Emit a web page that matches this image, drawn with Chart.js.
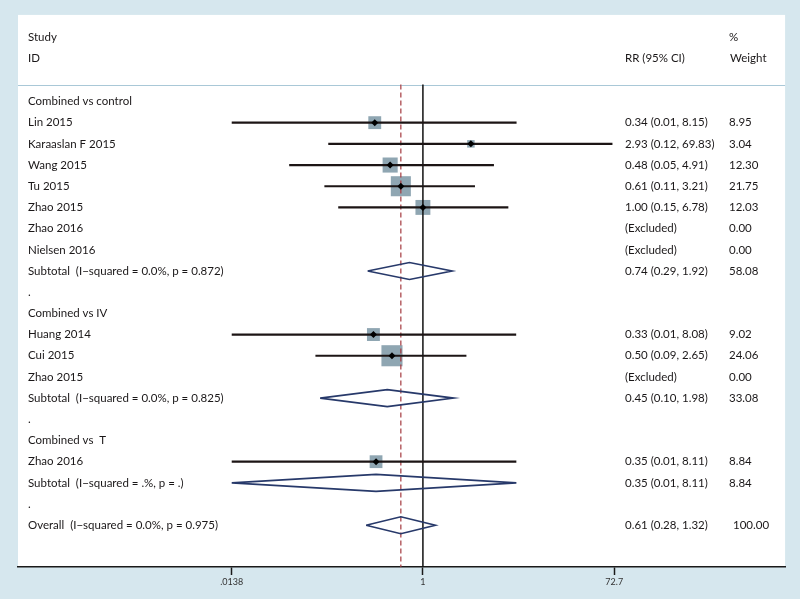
<!DOCTYPE html>
<html>
<head>
<meta charset="utf-8">
<script src="https://cdn.jsdelivr.net/npm/chart.js@4/dist/chart.umd.min.js"></script>
<style>
  html, body { margin: 0; padding: 0; background: #d6e7ee; }
  #wrap { width: 800px; height: 599px; }
</style>
</head>
<body>
<div id="wrap"><canvas id="forest"></canvas></div>
<script>
'use strict';

// rows of the forest plot, top to bottom
var rowLabels = [
    'Combined vs control', 'Lin 2015', 'Karaaslan F 2015', 'Wang 2015', 'Tu 2015', 'Zhao 2015',
    'Zhao 2016', 'Nielsen 2016', 'Subtotal  (I\u2212squared = 0.0%, p = 0.872)', '.',
    'Combined vs IV', 'Huang 2014', 'Cui 2015', 'Zhao 2015', 'Subtotal  (I\u2212squared = 0.0%, p = 0.825)', '.',
    'Combined vs  T', 'Zhao 2016', 'Subtotal  (I\u2212squared = .%, p = .)', '.',
    'Overall  (I\u2212squared = 0.0%, p = 0.975)'
];
// study | excl | sub | head | dot | all
var rowKind = ['head', 'study', 'study', 'study', 'study', 'study', 'excl', 'excl', 'sub', 'dot',
    'head', 'study', 'study', 'excl', 'sub', 'dot',
    'head', 'study', 'sub', 'dot', 'all'];
var rr     = [null, 0.34, 2.93, 0.48, 0.61, 1.00, null, null, 0.74, null, null, 0.33, 0.50, null, 0.45, null, null, 0.35, 0.35, null, 0.61];
var ciLow  = [null, 0.01, 0.12, 0.05, 0.11, 0.15, null, null, 0.29, null, null, 0.01, 0.09, null, 0.10, null, null, 0.01, 0.01, null, 0.28];
var ciHigh = [null, 8.15, 69.83, 4.91, 3.21, 6.78, null, null, 1.92, null, null, 8.08, 2.65, null, 1.98, null, null, 8.11, 8.11, null, 1.32];
var weights = [null, 8.95, 3.04, 12.30, 21.75, 12.03, 0.00, 0.00, 58.08, null, null, 9.02, 24.06, 0.00, 33.08, null, null, 8.84, 8.84, null, 100.00];

var tickValues = [0.0138, 1, 72.7];
var tickLabels = ['.0138', '1', '72.7'];

var textColor = '#1a1718';
var font = '11.5px Lato, "Open Sans", sans-serif';

// axis range (log10) so the ticks land where they are in the picture
var xMin = Math.pow(10, -3.9394);
var xMax = Math.pow(10, 3.5236);

function clip(v) {
    return Math.min(Math.max(v, tickValues[0]), tickValues[tickValues.length - 1]);
}

var datasets = [];
var squares = [], squareSizes = [], dots = [];

rowKind.forEach(function(kind, i) {
    if (kind === 'study') {
        datasets.push({
            type: 'line',
            data: [{x: clip(ciLow[i]), y: i}, {x: clip(ciHigh[i]), y: i}],
            borderColor: '#1c1515',
            borderWidth: 2.2,
            pointRadius: 0,
            order: 3
        });
        squares.push({x: rr[i], y: i});
        // box area proportional to weight
        squareSizes.push(4.3 * Math.sqrt(weights[i]) / Math.SQRT2);
        dots.push({x: rr[i], y: i});
    }
    if (kind === 'sub' || kind === 'all') {
        var h = 0.4;
        datasets.push({
            type: 'line',
            data: [
                {x: clip(ciLow[i]), y: i}, {x: rr[i], y: i - h},
                {x: clip(ciHigh[i]), y: i}, {x: rr[i], y: i + h},
                {x: clip(ciLow[i]), y: i}
            ],
            borderColor: '#27396a',
            borderWidth: 1.7,
            pointRadius: 0,
            fill: false,
            order: 2
        });
    }
});

var overall = rr[rr.length - 1];
var sepRow = -0.8, bottomRow = 21.97;

datasets.push({
    type: 'scatter',
    data: squares,
    pointStyle: 'rect',
    pointRadius: squareSizes,
    backgroundColor: '#8fa6b2',
    borderWidth: 0,
    order: 6
});
datasets.push({
    type: 'line',
    data: [{x: 1, y: sepRow}, {x: 1, y: bottomRow}],
    borderColor: '#111',
    borderWidth: 1.5,
    pointRadius: 0,
    order: 4
});
datasets.push({
    type: 'line',
    data: [{x: overall, y: sepRow}, {x: overall, y: bottomRow}],
    borderColor: '#a4393f',
    borderWidth: 1.2,
    borderDash: [5, 3],
    pointRadius: 0,
    order: 5
});
datasets.push({
    type: 'scatter',
    data: dots,
    pointStyle: 'rectRot',
    pointRadius: 3.5,
    backgroundColor: '#000',
    borderWidth: 0,
    order: 1
});

var panelPlugin = {
    id: 'panel',
    beforeDraw: function(chart) {
        var ctx = chart.ctx, a = chart.chartArea, y = chart.scales.y;
        ctx.save();
        ctx.fillStyle = '#d6e7ee';
        ctx.fillRect(0, 0, chart.width, chart.height);
        ctx.fillStyle = '#fff';
        ctx.fillRect(a.left, a.top, a.right - a.left, a.bottom - a.top);
        ctx.strokeStyle = '#a9c8d7';
        ctx.lineWidth = 1;
        var sy = Math.round(y.getPixelForValue(sepRow)) + 0.5;
        ctx.beginPath();
        ctx.moveTo(a.left, sy);
        ctx.lineTo(a.right, sy);
        ctx.stroke();
        ctx.restore();
    },
    afterDatasetsDraw: function(chart) {
        var ctx = chart.ctx, y = chart.scales.y;
        var xLabel = 28, xRR = 625, xW = 729;
        ctx.save();
        ctx.fillStyle = textColor;
        ctx.font = font;
        ctx.textBaseline = 'middle';
        ctx.textAlign = 'left';
        ctx.fillText('Study', xLabel, y.getPixelForValue(-3) - 1);
        ctx.fillText('ID', xLabel, y.getPixelForValue(-2) - 1);
        ctx.fillText('%', xW, y.getPixelForValue(-3) - 1);
        ctx.fillText('RR (95% CI)', xRR, y.getPixelForValue(-2) - 1);
        ctx.fillText('Weight', xW + 1, y.getPixelForValue(-2) - 1);
        rowLabels.forEach(function(lab, i) {
            var py = y.getPixelForValue(i);
            ctx.fillText(lab, xLabel, py);
            var kind = rowKind[i];
            if (kind === 'excl') {
                ctx.fillText('(Excluded)', xRR, py);
            } else if (rr[i] !== null) {
                ctx.fillText(rr[i].toFixed(2) + ' (' + ciLow[i].toFixed(2) + ', ' + ciHigh[i].toFixed(2) + ')', xRR, py);
            }
            if (weights[i] !== null) {
                ctx.fillText(weights[i].toFixed(2), kind === 'all' ? xW + 4 : xW, py);
            }
        });
        ctx.restore();
    }
};

new Chart(document.getElementById('forest'), {
    type: 'scatter',
    data: {datasets: datasets},
    plugins: [panelPlugin],
    options: {
        responsive: true,
        maintainAspectRatio: false,
        animation: false,
        devicePixelRatio: 1,
        layout: {padding: {left: 18, right: 14, top: 12, bottom: 0}},
        plugins: {
            legend: {display: false},
            tooltip: {enabled: false}
        },
        scales: {
            x: {
                type: 'logarithmic',
                min: xMin,
                max: xMax,
                bounds: 'data',
                border: {display: true, color: '#1a1a1a', width: 1.5},
                grid: {drawOnChartArea: false, drawTicks: true, tickLength: 8, color: '#1a1a1a', tickWidth: 1.5},
                ticks: {
                    autoSkip: false,
                    maxRotation: 0,
                    padding: 2,
                    color: '#333',
                    font: {family: 'Lato, "Open Sans", sans-serif', size: 9},
                    callback: function(v, i) { return tickLabels[i]; }
                },
                afterBuildTicks: function(s) {
                    s.ticks = tickValues.map(function(v) { return {value: v}; });
                },
                afterFit: function(s) { s.height = 32; }
            },
            y: {
                type: 'linear',
                reverse: true,
                min: -4.085,
                max: bottomRow,
                display: false
            }
        }
    }
});
</script>
</body>
</html>
